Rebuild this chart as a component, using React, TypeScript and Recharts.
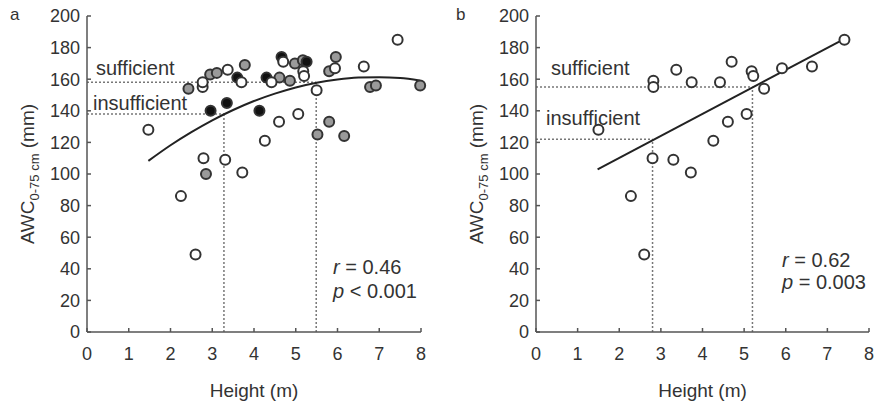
import { ScatterChart, Scatter, XAxis, YAxis, ReferenceLine } from "recharts";

// panel a — open, grey and black symbols
const openAx = [1.47, 2.25, 2.6, 2.77, 2.77, 2.79, 3.31, 3.37, 3.7, 3.72, 4.26, 4.42, 4.6, 4.7, 5.06, 5.18, 5.2, 5.5, 5.94, 6.63, 7.44];
const openAy = [128, 86, 49, 155, 158, 110, 109, 166, 158, 101, 121, 158, 133, 171, 138, 165, 162, 153, 167, 168, 185];
const grayAx = [2.43, 2.85, 2.95, 3.11, 3.78, 4.61, 4.86, 4.98, 5.17, 5.52, 5.8, 5.8, 5.96, 6.16, 6.78, 6.92, 7.98];
const grayAy = [154, 100, 163, 164, 169, 161, 159, 170, 172, 125, 165, 133, 174, 124, 155, 156, 156];
const blackAx = [2.96, 3.35, 3.6, 4.13, 4.3, 4.66, 5.26];
const blackAy = [140, 145, 161, 140, 161, 174, 171];
const curveAx = [1.47, 2, 2.5, 3, 3.5, 4, 4.5, 5, 5.5, 6, 6.5, 7, 7.5, 7.97];
const curveAy = [108.3, 118.2, 126.5, 134, 140.5, 146.2, 150.9, 154.8, 157.8, 159.8, 161, 161.3, 160.7, 159.2];
const thresholdsA = { sufficient: [5.49, 158], insufficient: [3.28, 138] };

// panel b
const openBx = [1.5, 2.28, 2.6, 2.8, 2.82, 2.82, 3.3, 3.37, 3.72, 3.74, 4.26, 4.42, 4.61, 4.7, 5.06, 5.18, 5.22, 5.48, 5.91, 6.63, 7.41];
const openBy = [128, 86, 49, 110, 159, 155, 109, 166, 101, 158, 121, 158, 133, 171, 138, 165, 162, 154, 167, 168, 185];
const fitBx = [1.48, 7.41];
const fitBy = [103, 185.5];
const thresholdsB = { sufficient: [5.2, 155], insufficient: [2.8, 122] };

const xTicks = [0, 1, 2, 3, 4, 5, 6, 7, 8];
const yTicks = [0, 20, 40, 60, 80, 100, 120, 140, 160, 180, 200];

const zip = (xs: number[], ys: number[]) => xs.map((x, i) => ({ x, y: ys[i] }));

const FONT = "'Liberation Sans', Arial, sans-serif";
const AXIS = "#555";
const DOT = "#777";
const INK = "#333";

const dot = (fill: string) => (p: any) => (
  <circle cx={p.cx} cy={p.cy} r={5} fill={fill} stroke="#333" strokeWidth={2} />
);
const noDot = () => <g />;

function YLabel(props: any) {
  const { viewBox } = props;
  const cx = viewBox.x - 8;
  const cy = viewBox.y + viewBox.height / 2;
  return (
    <text transform={`translate(${cx},${cy}) rotate(-90)`} textAnchor="middle" fontSize={19} fill={INK} fontFamily={FONT}>
      AWC<tspan fontSize={13} dy={5}>0-75 cm</tspan>
      <tspan dy={-5}> (mm)</tspan>
    </text>
  );
}

interface PanelProps {
  width: number;
  marginLeft: number;
  marginRight: number;
  groups: { data: { x: number; y: number }[]; fill: string }[];
  fit: { x: number; y: number }[];
  fitType: "monotoneX" | "linear";
  suff: number[];
  insuff: number[];
}

function Panel(p: PanelProps) {
  const seg = (t: number[]) => [
    [{ x: 0, y: t[1] }, { x: t[0], y: t[1] }],
    [{ x: t[0], y: 0 }, { x: t[0], y: t[1] }],
  ];
  const lines = [...seg(p.suff), ...seg(p.insuff)];
  return (
    <ScatterChart width={p.width} height={404} margin={{ top: 16, right: p.marginRight, bottom: 12, left: p.marginLeft }}>
      <XAxis
        type="number"
        dataKey="x"
        domain={[0, 8]}
        ticks={xTicks}
        interval={0}
        stroke={AXIS}
        strokeWidth={1.5}
        tickSize={-4}
        tickMargin={19}
        height={60}
        tick={{ fontSize: 18, fill: INK, fontFamily: FONT }}
        label={{ value: "Height (m)", position: "insideBottom", offset: -5, fontSize: 19, fill: INK, fontFamily: FONT }}
      />
      <YAxis
        type="number"
        dataKey="y"
        domain={[0, 200]}
        ticks={yTicks}
        interval={0}
        stroke={AXIS}
        strokeWidth={1.5}
        tickSize={-4}
        tickMargin={11}
        width={45}
        tick={{ fontSize: 18, fill: INK, fontFamily: FONT }}
        label={<YLabel />}
      />
      {lines.map((s, i) => (
        <ReferenceLine key={i} segment={s} stroke={DOT} strokeWidth={1.5} strokeDasharray="2 2" />
      ))}
      <Scatter data={p.fit} shape={noDot} line={{ stroke: "#222", strokeWidth: 2 }} lineJointType={p.fitType} isAnimationActive={false} />
      {p.groups.map((g, i) => (
        <Scatter key={i} data={g.data} shape={dot(g.fill)} isAnimationActive={false} />
      ))}
    </ScatterChart>
  );
}

const txt = (left: number, top: number, size = 20): React.CSSProperties => ({
  position: "absolute", left, top, fontSize: size, color: INK, fontFamily: FONT, lineHeight: 1, whiteSpace: "nowrap",
});

export default function App() {
  return (
    <div style={{ position: "absolute", left: 0, top: 0, width: 875, height: 404, background: "#fff", overflow: "hidden" }}>
      <div style={{ position: "absolute", left: 0, top: 0 }}>
        <Panel
          width={440}
          marginLeft={42}
          marginRight={19}
          groups={[
            { data: zip(grayAx, grayAy), fill: "#9a9a9a" },
            { data: zip(blackAx, blackAy), fill: "#111" },
            { data: zip(openAx, openAy), fill: "#fff" },
          ]}
          fit={zip(curveAx, curveAy)}
          fitType="monotoneX"
          suff={thresholdsA.sufficient}
          insuff={thresholdsA.insufficient}
        />
      </div>
      <div style={{ position: "absolute", left: 440, top: 0 }}>
        <Panel
          width={435}
          marginLeft={51}
          marginRight={6}
          groups={[{ data: zip(openBx, openBy), fill: "#fff" }]}
          fit={zip(fitBx, fitBy)}
          fitType="linear"
          suff={thresholdsB.sufficient}
          insuff={thresholdsB.insufficient}
        />
      </div>
      <div style={txt(10, 6, 17)}>a</div>
      <div style={txt(456, 6, 17)}>b</div>
      <div style={txt(96, 58)}>sufficient</div>
      <div style={txt(93, 93)}>insufficient</div>
      <div style={txt(551, 58)}>sufficient</div>
      <div style={txt(546, 108)}>insufficient</div>
      <div style={txt(333, 257)}><i>r</i> = 0.46</div>
      <div style={txt(333, 281)}><i>p</i> &lt; 0.001</div>
      <div style={txt(782, 250)}><i>r</i> = 0.62</div>
      <div style={txt(782, 272)}><i>p</i> = 0.003</div>
    </div>
  );
}
